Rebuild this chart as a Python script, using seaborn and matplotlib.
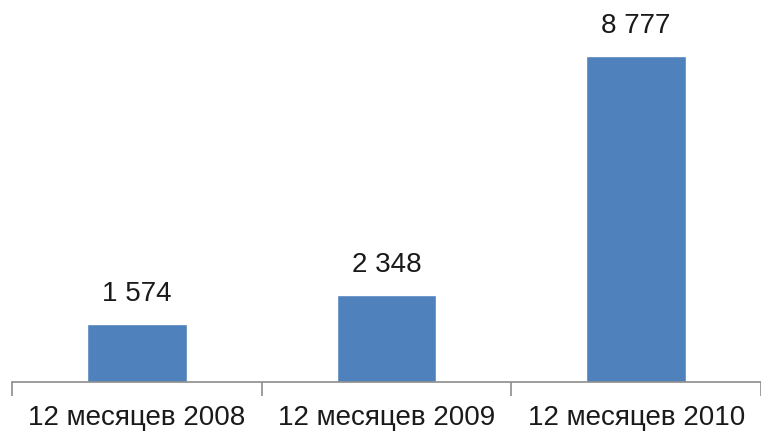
import matplotlib
matplotlib.use('Agg')
import matplotlib.pyplot as plt
import seaborn as sns
import pandas as pd
from matplotlib.ticker import FixedLocator

# data
periods = ['12 месяцев 2008', '12 месяцев 2009', '12 месяцев 2010']
values = [1574, 2348, 8777]
value_labels = ['1 574', '2 348', '8 777']

df = pd.DataFrame({'period': periods, 'value': values})

sns.set_style('white')
plt.rcParams['font.family'] = ['Liberation Sans Narrow', 'Liberation Sans', 'DejaVu Sans']

fig = plt.figure(figsize=(7.61, 4.39), dpi=100)
ax = fig.add_axes([12 / 761, 56 / 439, 1 - 12 / 761, 1 - 56 / 439])

sns.barplot(data=df, x='period', y='value', color='#4F81BD', saturation=1,
            width=0.4, ax=ax)

ax.set_xlim(-0.5, 2.5)
ax.set_ylim(0, 10312)

# value labels above the bars
for i, (v, lab) in enumerate(zip(values, value_labels)):
    ax.text(i, v + 480, lab, ha='center', va='bottom', fontsize=20, color='#1a1a1a')

# axes styling: only the bottom line, ticks at category boundaries
for side in ['top', 'right', 'left']:
    ax.spines[side].set_visible(False)
ax.spines['bottom'].set_color('#8c8c8c')
ax.spines['bottom'].set_linewidth(1.2)
ax.set_yticks([])
ax.set_xlabel('')
ax.set_ylabel('')
ax.tick_params(axis='x', which='major', bottom=False, length=0, pad=16,
               labelsize=20, labelcolor='#1a1a1a')
ax.xaxis.set_minor_locator(FixedLocator([-0.5, 0.5, 1.5, 2.5]))
ax.tick_params(axis='x', which='minor', bottom=True, length=10, width=1.2,
               color='#8c8c8c')

fig.savefig('out.png', dpi=100)
